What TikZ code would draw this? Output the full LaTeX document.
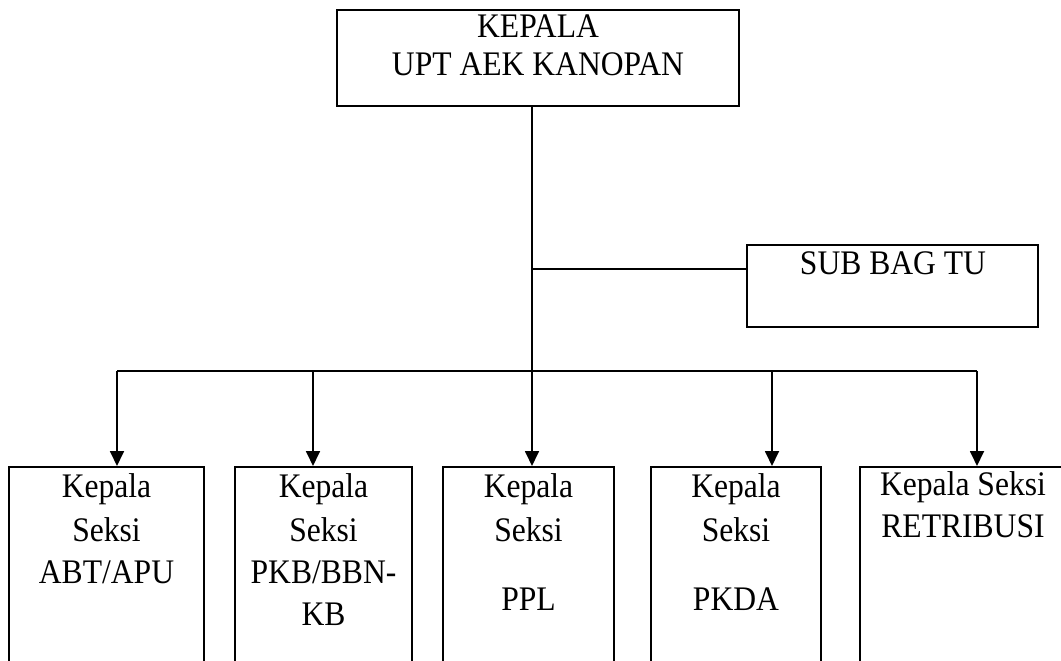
\documentclass[tikz,border=0pt]{standalone}
\usepackage{fontspec}
\setmainfont{Liberation Serif}
\usetikzlibrary{arrows.meta}
\newcommand\vstr[1]{\scalebox{1}[1.09]{#1}}
\begin{document}
\begin{tikzpicture}[x=1pt,y=-1pt,
  box/.style={draw,line width=2pt,inner sep=0pt},
  lbl/.style={anchor=base,inner sep=0pt,font=\fontsize{31.6}{37}\selectfont},
  conn/.style={line width=1.8pt},
  arr/.style={conn,-{Triangle[length=15pt,width=14pt]}}]
\clip (0,0) rectangle (1061,661);
\fill[white] (0,0) rectangle (1061,661);
% top box
\node[box,minimum width=402pt,minimum height=96pt] (top) at (538,58) {};
\node[lbl] (t1) at (538,38) {\vstr{KEPALA}};
\node[lbl] (t2) at (538,76) {\vstr{UPT AEK KANOPAN}};
% sub bag tu
\node[box,minimum width=291pt,minimum height=82pt] (sub) at (892.5,286) {};
\node[lbl] (s1) at (893,274) {\vstr{SUB BAG TU}};
% bottom boxes
\node[box,minimum width=195pt,minimum height=233pt] (b1) at (106.5,583.5) {};
\node[box,minimum width=177pt,minimum height=233pt] (b2) at (323.5,583.5) {};
\node[box,minimum width=171pt,minimum height=233pt] (b3) at (528.5,583.5) {};
\node[box,minimum width=170pt,minimum height=233pt] (b4) at (736,583.5) {};
\node[box,minimum width=206pt,minimum height=233pt] (b5) at (963,583.5) {};
% texts
\node[lbl] (l11) at (106.5,497) {\vstr{Kepala}};
\node[lbl] (l12) at (106.5,541) {\vstr{Seksi}};
\node[lbl] (l13) at (106.5,583) {\vstr{ABT/APU}};
\node[lbl] (l21) at (323.5,497) {\vstr{Kepala}};
\node[lbl] (l22) at (323.5,541) {\vstr{Seksi}};
\node[lbl] (l23) at (323.5,583) {\vstr{PKB/BBN-}};
\node[lbl] (l24) at (323.5,625) {\vstr{KB}};
\node[lbl] (l31) at (528.5,497) {\vstr{Kepala}};
\node[lbl] (l32) at (528.5,541) {\vstr{Seksi}};
\node[lbl] (l33) at (528.5,610) {\vstr{PPL}};
\node[lbl] (l41) at (736,497) {\vstr{Kepala}};
\node[lbl] (l42) at (736,541) {\vstr{Seksi}};
\node[lbl] (l43) at (736,610) {\vstr{PKDA}};
\node[lbl] (l51) at (963,495) {\vstr{Kepala Seksi}};
\node[lbl] (l52) at (963,537) {\vstr{RETRIBUSI}};
% connectors
\coordinate (j1) at (532,269);
\coordinate (a1) at (117,371);
\coordinate (a2) at (313,371);
\coordinate (a3) at (532,371);
\coordinate (a4) at (772,371);
\coordinate (a5) at (977,371);
\draw[conn] (top.south -| j1) -- (a3);
\draw[conn] (j1) -- (j1 -| sub.west);
\draw[conn] (a1) -- (a5);
\draw[arr] (a1) -- (a1 |- b1.north);
\draw[arr] (a2) -- (a2 |- b2.north);
\draw[arr] (a3) -- (a3 |- b3.north);
\draw[arr] (a4) -- (a4 |- b4.north);
\draw[arr] (a5) -- (a5 |- b5.north);
\end{tikzpicture}
\end{document}
